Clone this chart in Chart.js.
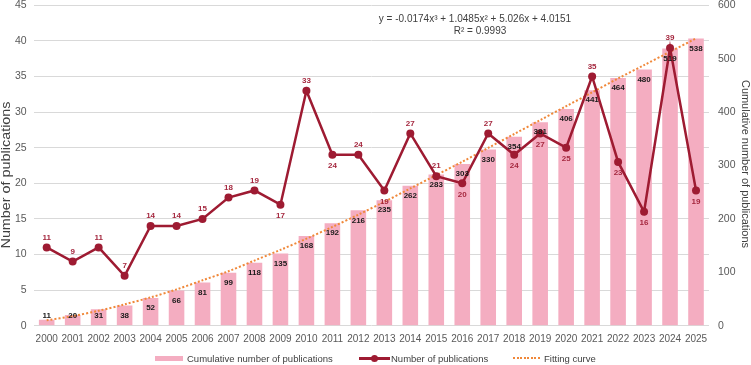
<!DOCTYPE html>
<html><head><meta charset="utf-8">
<script src="https://cdn.jsdelivr.net/npm/chart.js@4.4.1/dist/chart.umd.min.js"></script>
<style>
html,body{margin:0;padding:0;background:#fff;}
#wrap{position:relative;width:751px;height:365px;overflow:hidden;}
#c{position:absolute;left:0;top:0;}
.lg{position:absolute;top:352.5px;height:14px;line-height:14px;font:9.5px "Liberation Sans",Arial,sans-serif;color:#404040;white-space:nowrap;}
.sw{position:absolute;}
.dots{position:absolute;left:513px;top:357px;width:27px;height:2px;background:repeating-linear-gradient(to right,#f0883a 0,#f0883a 2px,transparent 2px,transparent 3.5px);}
</style></head><body>
<div id="wrap">
<canvas id="c" width="751" height="365"></canvas>
<div class="sw" style="left:155px;top:355.5px;width:28px;height:5px;background:#f4adc1;"></div>
<div class="lg" style="left:187px;">Cumulative number of publications</div>
<div class="sw" style="left:359px;top:357px;width:31px;height:2.5px;background:#9e1b32;"></div>
<div class="sw" style="left:370.5px;top:354.7px;width:7px;height:7px;border-radius:50%;background:#9e1b32;"></div>
<div class="lg" style="left:391px;">Number of publications</div>
<div class="dots"></div>
<div class="lg" style="left:544px;">Fitting curve</div>
</div>
<script>
const years = ['2000','2001','2002','2003','2004','2005','2006','2007','2008','2009','2010','2011','2012','2013','2014','2015','2016','2017','2018','2019','2020','2021','2022','2023','2024','2025'];
const annualCounts = [11,9,11,7,14,14,15,18,19,17,33,24,24,19,27,21,20,27,24,27,25,35,23,16,39,19];
const cumulativeCounts = [11,20,31,38,52,66,81,99,118,135,168,192,216,235,262,283,303,330,354,381,406,441,464,480,519,538];
const fittedValues = [10,18,28,40,53,68,85,102,122,142,163,185,208,232,257,282,307,333,359,385,411,437,463,488,513,538];
const countLabelsBelow = ['2009','2011','2013','2016','2018','2019','2020','2022','2023','2025'];
const equationLines = ['y = -0.0174x\u00B3 + 1.0485x\u00B2 + 5.026x + 4.0151', 'R\u00B2 = 0.9993'];
const leftTitle = 'Number of publications';
const rightTitle = 'Cumulative number of publications';

const FONT = '"Liberation Sans", Arial, sans-serif';
const LINE_COLOR = '#9e1b32';

function drawVerticalTitle(ctx, text, x, y, size, length, angle) {
  ctx.save();
  ctx.font = size + 'px ' + FONT;
  const w = ctx.measureText(text).width;
  ctx.translate(x, y);
  ctx.rotate(angle);
  ctx.scale(length / w, 1);
  ctx.fillText(text, 0, 0);
  ctx.restore();
}

const labelPlugin = {
  id: 'labels',
  afterDatasetsDraw(chart) {
    const ctx = chart.ctx;
    ctx.save();
    ctx.textAlign = 'center';
    ctx.textBaseline = 'middle';
    ctx.font = 'bold 8px ' + FONT;
    const barMeta = chart.getDatasetMeta(2);
    const base = chart.scales.y1.getPixelForValue(0);
    ctx.fillStyle = '#1a1a1a';
    barMeta.data.forEach((el, i) => {
      const y = Math.min(el.y + 10, base - 10);
      ctx.fillText(String(cumulativeCounts[i]), el.x, y);
    });
    const lineMeta = chart.getDatasetMeta(0);
    ctx.fillStyle = '#a5283f';
    lineMeta.data.forEach((el, i) => {
      const below = countLabelsBelow.includes(years[i]);
      ctx.fillText(String(annualCounts[i]), el.x, below ? el.y + 11 : el.y - 10);
    });
    ctx.font = '10px ' + FONT;
    ctx.fillStyle = '#404040';
    ctx.fillText(equationLines[0], 475, 19.5);
    ctx.fillText(equationLines[1], 480, 31);
    drawVerticalTitle(ctx, leftTitle, 6.5, 175, 12, 147, -Math.PI / 2);
    drawVerticalTitle(ctx, rightTitle, 744.5, 164, 10.5, 168, Math.PI / 2);
    ctx.restore();
  }
};

function noVPad(s) { s.paddingTop = 0; s.paddingBottom = 0; }

new Chart(document.getElementById('c'), {
  data: {
    labels: years,
    datasets: [
      {
        type: 'line', label: 'Number of publications', data: annualCounts, yAxisID: 'y',
        borderColor: LINE_COLOR, backgroundColor: LINE_COLOR, borderWidth: 2.5,
        pointRadius: 4, pointBackgroundColor: LINE_COLOR, pointBorderWidth: 0, tension: 0, order: 0
      },
      {
        type: 'line', label: 'Fitting curve', data: fittedValues, yAxisID: 'y1',
        borderColor: '#f0883a', borderWidth: 2, borderDash: [2, 2], pointRadius: 0, tension: 0.3, order: 1
      },
      {
        type: 'bar', label: 'Cumulative number of publications', data: cumulativeCounts, yAxisID: 'y1',
        backgroundColor: '#f4adc1', barPercentage: 0.6, categoryPercentage: 1, order: 2
      }
    ]
  },
  options: {
    responsive: false, animation: false, devicePixelRatio: 1,
    layout: { padding: { top: 5.3, bottom: 19.3, left: 0, right: 0 } },
    plugins: { legend: { display: false }, tooltip: { enabled: false } },
    scales: {
      x: {
        offset: true,
        grid: { display: false },
        border: { display: false },
        ticks: { font: { family: FONT, size: 10 }, color: '#595959', padding: 0, maxRotation: 0, autoSkip: false },
        afterFit(s) { s.height = 20; s.paddingLeft = 0; s.paddingRight = 0; }
      },
      y: {
        position: 'left', min: 0, max: 45,
        grid: { color: '#d9d9d9', drawTicks: false },
        border: { display: false },
        ticks: { stepSize: 5, font: { family: FONT, size: 10.5 }, color: '#595959', padding: 7 },
        afterFit(s) { s.width = 33.7; noVPad(s); }
      },
      y1: {
        position: 'right', min: 0, max: 600,
        grid: { drawOnChartArea: false, drawTicks: false },
        border: { display: false },
        ticks: { stepSize: 100, font: { family: FONT, size: 10.5 }, color: '#595959', padding: 9 },
        afterFit(s) { s.width = 42; noVPad(s); }
      }
    }
  },
  plugins: [labelPlugin]
});
</script>
</body></html>
